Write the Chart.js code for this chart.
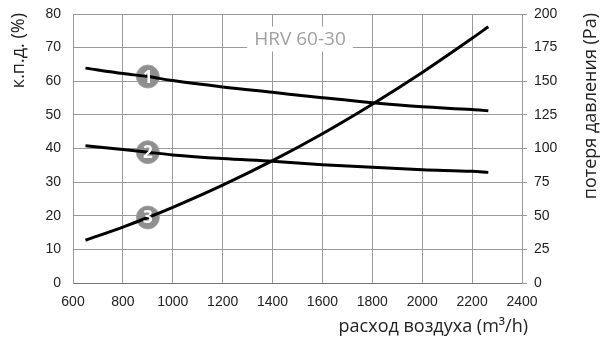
<!DOCTYPE html>
<html>
<head>
<meta charset="utf-8">
<script src="https://cdn.jsdelivr.net/npm/chart.js@4/dist/chart.umd.min.js"></script>
<style>
html,body{margin:0;padding:0;background:#fff;}
#wrap{width:608px;height:341px;position:relative;}
</style>
</head>
<body>
<div id="wrap"><canvas id="c" width="608" height="341"></canvas></div>
<script>
// ---- data ----
const airflow = [650, 800, 900, 1000, 1200, 1400, 1600, 1800, 2000, 2200, 2265];
const efficiency1 = [63.9, 62.3, 61.4, 60.2, 58.3, 56.7, 55.1, 53.6, 52.4, 51.6, 51.2];
const efficiency2 = [40.8, 39.7, 38.9, 38.1, 37.0, 36.2, 35.2, 34.4, 33.7, 33.2, 32.9];
const pressureLoss = [31.8, 41.6, 48.7, 56.3, 72.8, 91.0, 111.0, 132.9, 156.5, 181.9, 190.5];
const markerLabels = ['1', '2', '3'];
const markerAirflow = [900, 900, 900];
const markerValues = [61.4, 38.9, 48.7];
const markerAxes = ['y', 'y', 'y2'];
const xTitle = 'расход воздуха (m³/h)';
const yTitle = 'к.п.д. (%)';
const y2Title = 'потеря давления (Pa)';
const modelLabel = 'HRV 60-30';
const modelLabelAt = {x: 1510, y: 72.7};

const toXY = (xs, ys) => xs.map((x, i) => ({x: x, y: ys[i]}));

const FONT = '"Liberation Sans", Arial, sans-serif';
const TFONT = '"Open Sans", "Liberation Sans", sans-serif';
const GRID = '#9a9a9a';
const TXT = '#222';

const lineStyle = {borderColor: '#000', borderWidth: 3, pointRadius: 0, cubicInterpolationMode: 'monotone', fill: false};

const datasets = [
  Object.assign({label: '1', data: toXY(airflow, efficiency1), yAxisID: 'y'}, lineStyle),
  Object.assign({label: '2', data: toXY(airflow, efficiency2), yAxisID: 'y'}, lineStyle),
  Object.assign({label: '3', data: toXY(airflow, pressureLoss), yAxisID: 'y2'}, lineStyle)
];
markerLabels.forEach((m, i) => {
  datasets.push({
    label: 'm' + m,
    data: [{x: markerAirflow[i], y: markerValues[i]}],
    yAxisID: markerAxes[i],
    showLine: false,
    pointRadius: 11.5,
    pointBackgroundColor: '#8f8f8f',
    pointBorderColor: '#a5a5a5',
    pointBorderWidth: 1,
    markerText: m
  });
});

const decor = {
  id: 'decor',
  beforeDatasetsDraw(chart) {
    const ctx = chart.ctx;
    const xs = chart.scales.x, ys = chart.scales.y;
    const cx = xs.getPixelForValue(modelLabelAt.x);
    const cy = ys.getPixelForValue(modelLabelAt.y);
    ctx.save();
    ctx.font = '19px ' + TFONT;
    const w = ctx.measureText(modelLabel).width;
    ctx.fillStyle = '#fff';
    ctx.fillRect(cx - w / 2 - 7, cy - 12, w + 14, 25);
    ctx.fillStyle = '#a0a0a0';
    ctx.textAlign = 'center';
    ctx.textBaseline = 'middle';
    ctx.fillText(modelLabel, cx, cy + 1);
    ctx.restore();
  },
  afterDatasetsDraw(chart) {
    const ctx = chart.ctx;
    ctx.save();
    chart.data.datasets.forEach((ds, i) => {
      if (!ds.markerText) return;
      const pt = chart.getDatasetMeta(i).data[0];
      ctx.fillStyle = '#fff';
      ctx.font = 'bold 17px ' + TFONT;
      ctx.textAlign = 'center';
      ctx.textBaseline = 'alphabetic';
      ctx.fillText(ds.markerText, pt.x, pt.y + 6);
    });
    ctx.restore();
  },
  afterDraw(chart) {
    const ctx = chart.ctx;
    const a = chart.chartArea;
    ctx.save();
    ctx.fillStyle = TXT;
    ctx.font = '18px ' + TFONT;
    // x title
    ctx.textAlign = 'right';
    ctx.textBaseline = 'middle';
    ctx.fillText(xTitle, 528, 327);
    // left title
    ctx.save();
    ctx.translate(19, a.top - 1);
    ctx.rotate(-Math.PI / 2);
    ctx.textAlign = 'right';
    ctx.textBaseline = 'middle';
    ctx.fillText(yTitle, 0, 0);
    ctx.restore();
    // right title
    ctx.save();
    ctx.translate(591, a.top - 1);
    ctx.rotate(-Math.PI / 2);
    ctx.textAlign = 'right';
    ctx.textBaseline = 'middle';
    ctx.fillText(y2Title, 0, 0);
    ctx.restore();
    ctx.restore();
  }
};

const fitVertical = w => s => { s.width = w; s.paddingTop = 0; s.paddingBottom = 0; };

new Chart(document.getElementById('c'), {
  type: 'line',
  data: {datasets: datasets},
  options: {
    responsive: false,
    animation: false,
    layout: {padding: {top: 14, left: 0, right: 0, bottom: 0}},
    plugins: {legend: {display: false}, tooltip: {enabled: false}},
    scales: {
      x: {
        type: 'linear', min: 600, max: 2400,
        afterFit: s => { s.height = 58; },
        ticks: {stepSize: 200, color: TXT, font: {family: FONT, size: 14}, padding: 11, maxRotation: 0, callback: v => String(v)},
        grid: {color: GRID, lineWidth: 1, drawTicks: false},
        border: {color: '#777', width: 1}
      },
      y: {
        position: 'left', min: 0, max: 80,
        afterFit: fitVertical(73),
        ticks: {stepSize: 10, color: TXT, font: {family: FONT, size: 14}, padding: 12},
        grid: {color: GRID, lineWidth: 1, drawTicks: false},
        border: {color: GRID, width: 1}
      },
      y2: {
        position: 'right', min: 0, max: 200,
        afterFit: fitVertical(86),
        ticks: {stepSize: 25, color: TXT, font: {family: FONT, size: 14}, padding: 7},
        grid: {color: GRID, lineWidth: 1, drawOnChartArea: false, tickLength: 5},
        border: {color: GRID, width: 1}
      }
    }
  },
  plugins: [decor]
});
</script>
</body>
</html>
